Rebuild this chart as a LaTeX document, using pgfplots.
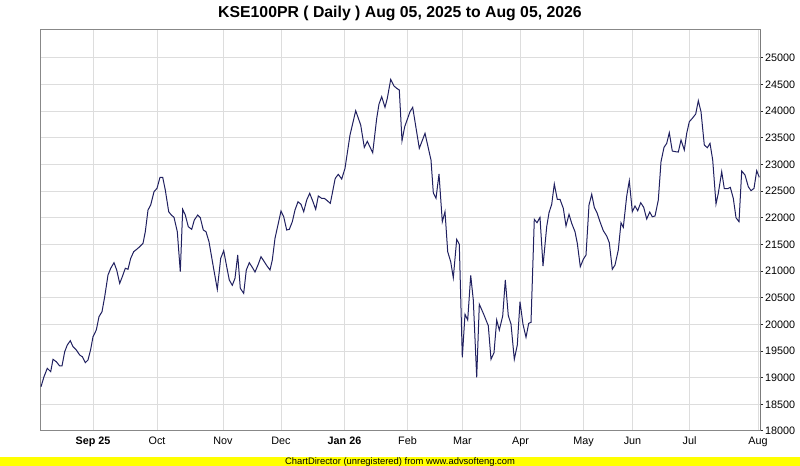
\documentclass[border=0pt]{standalone}
\usepackage{pgfplots}
\pgfplotsset{compat=1.18}
\usepackage{fontspec}
\setmainfont{Liberation Sans}
\definecolor{navy}{RGB}{32,32,96}
\definecolor{gridc}{RGB}{221,221,221}
\definecolor{framec}{RGB}{136,136,136}
\definecolor{cdyellow}{RGB}{255,255,0}
\pgfplotstableread{
x y
41 18831
44 19018
47.3 19176
50.7 19112
53 19344
56.3 19299
59.7 19219
62 19219
64.7 19487
67.3 19613
70.3 19693
73 19581
76.3 19519
79.7 19425
82.3 19393
85.3 19281
88 19331
90.7 19532
93 19768
96.3 19894
99 20143
102 20237
104.7 20518
108 20925
110.7 21051
114 21156
116.7 21019
119.7 20769
122.3 20893
125.3 21051
128 21032
130.7 21238
133.7 21362
136.7 21407
139.7 21456
143 21519
145.3 21737
148 22144
150.7 22238
154 22487
157 22551
160 22757
162.7 22757
165.3 22519
168.7 22112
171.3 22050
174 22007
177.3 21737
180.3 20987
182.7 22157
185.3 22050
188.3 21831
191.7 21782
194.3 21956
197.7 22050
200.3 21999
203.3 21769
206 21737
209 21549
213.3 21081
217.3 20657
220.7 21238
223.7 21381
226.7 21081
229.3 20831
232.3 20732
235 20863
237.7 21300
240.3 20676
243.7 20582
246.3 21019
249.3 21156
252.3 21069
255 20981
258 21113
261 21268
264.3 21174
267 21094
270 21019
272.3 21206
275 21613
278.3 21894
281 22125
283.7 22018
286.7 21769
289.3 21782
292.3 21924
295 22144
298 22299
301 22251
303.7 22112
306.7 22331
309.7 22457
312.7 22313
315.7 22157
318.3 22406
321.7 22363
324.3 22363
327.3 22318
330.3 22269
332.3 22457
335 22719
336 22757
338.3 22813
341.7 22725
345 22926
350 23550
355.7 24006
360.7 23738
364.3 23319
367.3 23432
372.7 23218
376.7 23863
379 24131
381.7 24268
385 24069
387.3 24238
390.7 24594
394 24469
396.7 24426
399.3 24394
402 23443
404.7 23706
410 23987
412.7 24069
419.3 23301
425 23582
431 23081
433.3 22468
436 22363
439 22819
442.3 21924
445 22112
447.7 21362
450.7 21174
453.3 20874
456.7 21594
459.3 21501
462.3 19382
465 20188
467.7 20081
470.7 20919
473.3 20456
476.7 19007
479.3 20376
483.3 20207
488.3 19974
491 19344
494 19468
496.7 20081
499.3 19894
502.7 20156
505.3 20831
508.3 20162
511 20006
514.3 19344
517.3 19613
520 20424
523 20001
526 19757
528.7 20019
531 20038
534.3 21969
537 21906
540 22007
543 21094
546.7 21831
549 22093
551.7 22251
554.3 22631
557.3 22344
560 22344
563.3 22176
566 21844
569 22063
571.7 21894
575 21737
577.3 21519
580.3 21081
583.3 21219
586 21300
589 22238
591.7 22438
594.3 22194
597 22093
600 21924
603.3 21756
606.7 21656
609.3 21531
612.3 21032
615 21113
618.3 21394
621 21906
623.3 21819
626.7 22406
629.3 22693
632.3 22112
635 22219
637.7 22131
640.7 22281
643.7 22194
646.7 21975
649.7 22106
652.3 22018
655 22031
658.3 22331
661 23050
664 23319
666.7 23394
669.3 23593
672.3 23250
675.7 23237
678.3 23231
681 23456
684.3 23269
686.7 23582
689.3 23799
692.3 23863
695.7 23944
698.3 24193
701 23987
704.3 23363
707.3 23312
710 23394
712.7 23081
716 22256
718.3 22457
721.7 22862
724.3 22543
727.7 22543
730.3 22569
733.3 22363
736 21999
739 21924
741.7 22875
745 22800
748.3 22581
751 22506
754 22551
756.7 22881
759.3 22757
}\kse
\begin{document}
\begin{tikzpicture}[x=1bp,y=1bp]
\fill[white] (0,0) rectangle (800,466);
\useasboundingbox (0,0) rectangle (800,466);
\fill[cdyellow] (0,0) rectangle (800,9);
\node[font=\fontsize{9.4bp}{10bp}\selectfont, inner sep=0pt, anchor=base] at (400,1.2) {ChartDirector (unregistered) from www.advsofteng.com};
\node[font=\fontsize{15.8bp}{18bp}\selectfont\bfseries, inner sep=0pt, anchor=base] at (400,448.7) {KSE100PR ( Daily ) Aug 05, 2025 to Aug 05, 2026};
\begin{axis}[
  at={(40bp,35bp)}, anchor=south west,
  scale only axis, width=720bp, height=401bp,
  xmin=40, xmax=760, ymin=18000, ymax=25520,
  axis line style={framec, line width=1bp},
  grid=major, major grid style={gridc, line width=1bp},
  ytick={18000,18500,...,25000},
  xtick={93,157,223,281,344.5,407.5,462.5,520.5,583.5,632.5,689.5,758},
  xticklabels={\textbf{Sep 25},Oct,Nov,Dec,\textbf{Jan 26},Feb,Mar,Apr,May,Jun,Jul,Aug},
  ytick pos=right, yticklabel pos=right,
  xtick pos=bottom,
  tick align=outside,
  major tick length=3bp,
  xtick style={draw=none},
  ytick style={black!85, line width=1bp},
  yticklabel style={anchor=west, inner sep=0pt, xshift=2bp, font=\fontsize{10.8bp}{12bp}\selectfont},
  xticklabel style={anchor=north, inner sep=0pt, yshift=-2.5bp, font=\fontsize{10.8bp}{12bp}\selectfont},
  scaled y ticks=false,
  /pgf/number format/.cd, 1000 sep={}, assume math mode=true,
]
\addplot[navy, line width=1bp, mark=none] table[x=x,y=y] {\kse};
\draw[black!85, line width=1bp] (rel axis cs:1,0) -- (rel axis cs:1,1);
\end{axis}
\end{tikzpicture}
\end{document}
